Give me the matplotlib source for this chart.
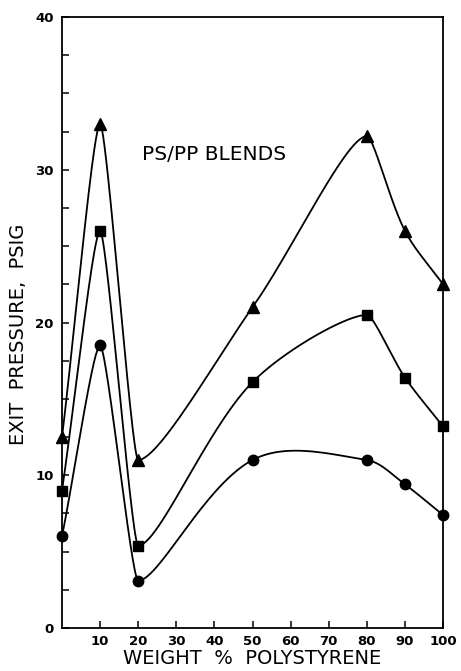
import numpy as np
import matplotlib.pyplot as plt
from matplotlib.ticker import MultipleLocator

# Weight % polystyrene in the blend
wt_ps = [0, 10, 20, 50, 80, 90, 100]

# Exit pressure (psig) for the three series
p_triangle = [12.5, 33.0, 11.0, 21.0, 32.2, 26.0, 22.5]
p_square = [9.0, 26.0, 5.4, 16.1, 20.5, 16.4, 13.2]
p_circle = [6.0, 18.5, 3.1, 11.0, 11.0, 9.4, 7.4]


def smooth_curve(x, y, sx, sy, k=0.33, k_ext=0.18, n=60):
    """Bezier curve through the points, built in pixel space.

    Peaks and valleys get horizontal tangents with short handles so the
    turns stay tight; other points use the chord between neighbours.
    """
    P = np.column_stack([np.asarray(x, float) * sx, np.asarray(y, float) * sy])
    npts = len(P)
    tang = np.zeros_like(P)
    ext = np.zeros(npts, bool)
    for i in range(npts):
        if i == 0:
            t = P[1] - P[0]
        elif i == npts - 1:
            t = P[-1] - P[-2]
        else:
            d0 = P[i, 1] - P[i - 1, 1]
            d1 = P[i + 1, 1] - P[i, 1]
            if d0 * d1 < 0:
                t = np.array([1.0, 0.0])
                ext[i] = True
            else:
                t = P[i + 1] - P[i - 1]
        tang[i] = t / np.linalg.norm(t)

    s = np.linspace(0, 1, n)[:, None]
    pts = []
    for i in range(npts - 1):
        L = np.linalg.norm(P[i + 1] - P[i])
        dx = P[i + 1, 0] - P[i, 0]
        a = k_ext * dx if ext[i] else k * L
        b = k_ext * dx if ext[i + 1] else k * L
        c1 = P[i] + a * tang[i]
        c2 = P[i + 1] - b * tang[i + 1]
        seg = ((1 - s) ** 3 * P[i] + 3 * (1 - s) ** 2 * s * c1
               + 3 * (1 - s) * s ** 2 * c2 + s ** 3 * P[i + 1])
        pts.append(seg)
    pts = np.vstack(pts)
    return pts[:, 0] / sx, pts[:, 1] / sy


fig = plt.figure(figsize=(4.61, 6.71), dpi=100)
ax = fig.add_axes([0.1345, 0.064, 0.8265, 0.9107])
ax.set_xlim(0, 100)
ax.set_ylim(0, 40)

# pixels per data unit, so the curves bend the same way on screen
bb = ax.get_window_extent()
sx = bb.width / 100
sy = bb.height / 40

for y, mk, ms in [(p_triangle, '^', 8), (p_square, 's', 7), (p_circle, 'o', 7.5)]:
    cx, cy = smooth_curve(wt_ps, y, sx, sy)
    ax.plot(cx, cy, color='black', linewidth=1.3, clip_on=False)
    ax.plot(wt_ps, y, linestyle='none', marker=mk, markersize=ms,
            color='black', clip_on=False)

ax.set_xticks(range(10, 101, 10))
ax.set_yticks([0, 10, 20, 30, 40])
ax.yaxis.set_minor_locator(MultipleLocator(2.5))
ax.tick_params(axis='both', direction='in', length=5, width=1.1, labelsize=9.5)
ax.tick_params(axis='y', which='minor', direction='in', length=5, width=1.1)
ax.tick_params(axis='x', pad=5)
ax.tick_params(axis='y', pad=6)
for lab in ax.get_xticklabels() + ax.get_yticklabels():
    lab.set_fontweight('bold')

for s in ax.spines.values():
    s.set_linewidth(1.3)

ax.text(21, 31, 'PS/PP BLENDS', fontsize=14.5, ha='left', va='center')
ax.set_xlabel('WEIGHT  %  POLYSTYRENE', fontsize=14, labelpad=1)
ax.set_ylabel('EXIT  PRESSURE,  PSIG', fontsize=14, labelpad=9)
ax.yaxis.set_label_coords(-0.089, 0.48)

fig.savefig('out.png', dpi=100)
